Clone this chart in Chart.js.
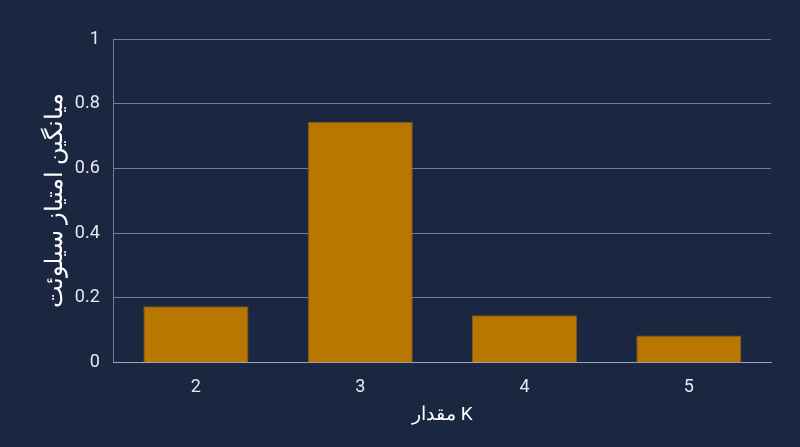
<!DOCTYPE html>
<html>
<head>
<meta charset="utf-8">
<script src="https://cdn.jsdelivr.net/npm/chart.js@4/dist/chart.umd.min.js"></script>
<style>
  html, body { margin: 0; padding: 0; background: #1b2640; }
  #wrap { width: 800px; height: 447px; }
</style>
</head>
<body>
<div id="wrap"><canvas id="chart"></canvas></div>
<script>
const kValues = ['2', '3', '4', '5'];
const silhouetteScores = [0.174, 0.744, 0.146, 0.084];
const yTicks = [0, 0.2, 0.4, 0.6, 0.8, 1];

const xTitle = 'مقدار K';
const yTitle = 'میانگین امتیاز سیلوئت';

const gridColor = 'rgba(190, 198, 215, 0.55)';
const tickColor = '#e6e8ee';

new Chart(document.getElementById('chart'), {
    type: 'bar',
    data: {
        labels: kValues,
        datasets: [{
            data: silhouetteScores,
            backgroundColor: '#b87800',
            borderColor: '#7d5a22',
            borderWidth: 1,
            categoryPercentage: 0.8,
            barPercentage: 0.8,
        }],
    },
    options: {
        responsive: true,
        maintainAspectRatio: false,
        animation: false,
        layout: { padding: { top: 39, right: 29, left: 42, bottom: 20 } },
        plugins: { legend: { display: false }, tooltip: { enabled: false } },
        scales: {
            x: {
                grid: { display: false, drawTicks: false },
                border: { color: gridColor, width: 1 },
                ticks: { color: tickColor, font: { family: 'Roboto', size: 18 }, padding: 14 },
                title: { display: true, text: xTitle, color: '#ffffff', font: { family: 'Roboto', size: 19 }, padding: { top: -8, bottom: 0 } },
            },
            y: {
                min: 0,
                max: 1,
                afterBuildTicks: (axis) => { axis.ticks = yTicks.map((v) => ({ value: v })); },
                grid: { color: gridColor, drawTicks: false },
                border: { color: gridColor, width: 1 },
                ticks: {
                    color: tickColor,
                    font: { family: 'Roboto', size: 18 },
                    padding: 14,
                    callback: (v) => String(v),
                },
                title: { display: true, text: yTitle, color: '#ffffff', font: { family: 'Roboto', size: 24 }, padding: { top: 0, bottom: -10 } },
            },
        },
    },
});
</script>
</body>
</html>
